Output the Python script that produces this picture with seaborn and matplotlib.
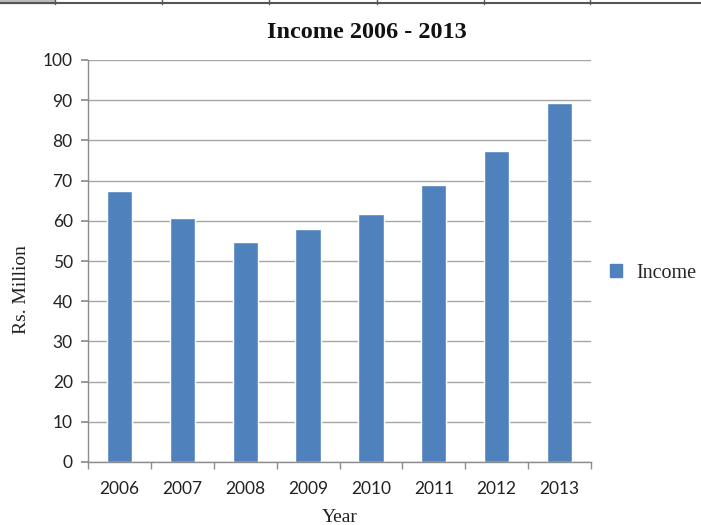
import matplotlib
matplotlib.use("Agg")
import matplotlib.pyplot as plt
import seaborn as sns
import pandas as pd
from matplotlib.lines import Line2D
from matplotlib.patches import Rectangle

years = ["2006", "2007", "2008", "2009", "2010", "2011", "2012", "2013"]
income = [67.3, 60.6, 54.8, 57.9, 61.6, 69.0, 77.3, 89.2]
yticks = [0, 10, 20, 30, 40, 50, 60, 70, 80, 90, 100]

df = pd.DataFrame({"Year": years, "Income": income})

sns.set_theme(style="white")
fig = plt.figure(figsize=(7.01, 5.25), dpi=100)
ax = fig.add_axes([88/701, 1-462/525, (591-88)/701, (462-60)/525])

sns.barplot(data=df, x="Year", y="Income", color="#4F81BD", width=0.4,
            saturation=1, ax=ax, label="Income")

ax.set_ylim(0, 100)
ax.set_xlim(-0.5, len(years) - 0.5)
ax.set_yticks(yticks)
ax.yaxis.grid(True, color="#A6A6A6", linewidth=1)
ax.set_axisbelow(True)
for s in ["top", "right"]:
    ax.spines[s].set_visible(False)
for s in ["left", "bottom"]:
    ax.spines[s].set_color("#8C8C8C")
    ax.spines[s].set_linewidth(1)

ax.set_xticks([i - 0.5 for i in range(len(years) + 1)], minor=True)
ax.tick_params(axis="x", which="major", length=0, labelsize=12.5, pad=14)
ax.tick_params(axis="x", which="minor", length=5, color="#8C8C8C", bottom=True)
ax.tick_params(axis="y", which="major", length=5, color="#8C8C8C", left=True,
               labelsize=12.5, pad=6)
for lab in ax.get_xticklabels() + ax.get_yticklabels():
    lab.set_fontfamily("Lato")
    lab.set_color("#222222")

serif = "Liberation Serif"
ax.set_xlabel("Year", fontfamily=serif, fontsize=14, labelpad=8, color="#222222")
ax.set_ylabel("Rs. Million", fontfamily=serif, fontsize=14, color="#222222")
ax.yaxis.set_label_coords(-0.115, 0.43)
ax.set_title("Income 2006 - 2013", fontfamily=serif, fontweight="bold",
             fontsize=17.5, pad=16, color="#111111", x=(367 - 88) / 503)

leg = ax.legend(handles=[Rectangle((0, 0), 1, 1, color="#4F81BD")], labels=["Income"],
                loc="center left", bbox_to_anchor=(1.002, 0.47), frameon=False,
                handlelength=0.6, handleheight=0.6, handletextpad=0.7,
                prop={"family": serif, "size": 14.5})

# spreadsheet artifact strip at top
fig.add_artist(Line2D([0, 1], [1-2.5/525, 1-2.5/525], color="#555555", linewidth=1.5,
                      transform=fig.transFigure))
fig.add_artist(Rectangle((0, 1-3/525), 55/701, 3/525, color="#BBBBBB",
                         transform=fig.transFigure))
for xp in [55, 162, 269, 377, 484, 590]:
    fig.add_artist(Line2D([xp/701, xp/701], [1-4/525, 1], color="#555555", linewidth=1,
                          transform=fig.transFigure))

fig.savefig("out.png", dpi=100)
